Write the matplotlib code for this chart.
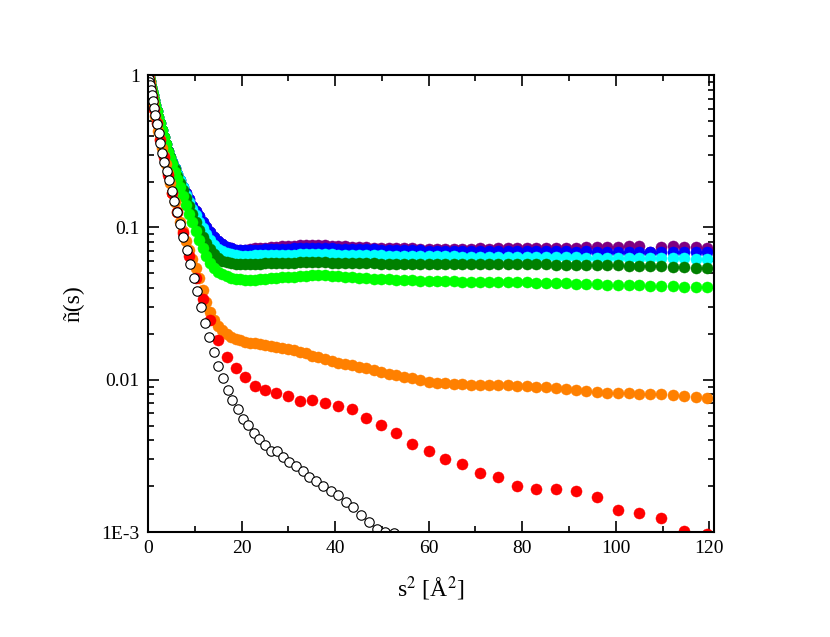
import matplotlib
matplotlib.use("Agg")
import matplotlib.pyplot as plt
from matplotlib.ticker import FixedLocator, FixedFormatter, LogLocator, NullFormatter, MultipleLocator

plt.rcParams.update({
    "font.family": ["Liberation Serif", "DejaVu Serif"],
    "mathtext.fontset": "stix",
})

# s^2 grid of the dense series (coloured curves)
s2_fine = [
    0.0, 0.013, 0.052, 0.117, 0.208, 0.324, 0.467, 0.636, 0.830, 1.051,
    1.297, 1.569, 1.868, 2.192, 2.542, 2.918, 3.320, 3.748, 4.202, 4.682,
    5.188, 5.720, 6.277, 6.861, 7.471, 8.106, 8.768, 9.455, 10.168, 10.908,
    11.673, 12.464, 13.281, 14.124, 14.994, 15.888, 16.809, 17.756, 18.729, 19.727,
    20.752, 21.802, 22.879, 23.982, 25.110, 26.264, 27.445, 28.651, 29.883, 31.141,
    32.425, 33.735, 35.071, 36.433, 37.820, 39.234, 40.674, 42.140, 43.631, 45.148,
    46.692, 48.262, 49.857, 51.478, 53.125, 54.798, 56.497, 58.222, 59.973, 61.750,
    63.553, 65.381, 67.236, 69.116, 71.023, 72.956, 74.914, 76.898, 78.909, 80.945,
    83.008, 85.096, 87.210, 89.350, 91.516, 93.708, 95.926, 98.170, 100.440, 102.736,
    105.057, 107.405, 109.778, 112.178, 114.603, 117.054, 119.532, 122.035,
]
s2_red = s2_fine[::2]
s2_white = [
    0.0, 0.016, 0.063, 0.141, 0.25, 0.391, 0.563, 0.766, 1.0, 1.266,
    1.563, 1.891, 2.25, 2.641, 3.063, 3.516, 4.0, 4.516, 5.063, 5.641,
    6.25, 6.891, 7.563, 8.266, 9.0, 9.766, 10.563, 11.391, 12.25, 13.141,
    14.063, 15.016, 16.0, 17.016, 18.063, 19.141, 20.25, 21.391, 22.563, 23.766,
    25.0, 26.266, 27.563, 28.891, 30.25, 31.641, 33.063, 34.516, 36.0, 37.516,
    39.063, 40.641, 42.25, 43.891, 45.563, 47.266, 49.0, 50.766, 52.563,
]

head = [1.0, 0.996, 0.985, 0.967, 0.942, 0.911, 0.875, 0.833, 0.787, 0.739,
        0.689, 0.637, 0.585, 0.533, 0.484, 0.437, 0.394, 0.353, 0.318, 0.290]

n_purple = head + [
    0.267, 0.245, 0.224, 0.204, 0.185, 0.167, 0.153, 0.139, 0.129, 0.119,
    0.109, 0.100, 0.0931, 0.0863, 0.0813, 0.0773, 0.0746, 0.0728, 0.0715, 0.0708,
    0.0711, 0.0722, 0.0727, 0.0732, 0.0737, 0.0742, 0.0747, 0.0752, 0.0757, 0.0760,
    0.0763, 0.0765, 0.0767, 0.0766, 0.0762, 0.0758, 0.0754, 0.0750, 0.0746, 0.0743,
    0.0740, 0.0737, 0.0734, 0.0732, 0.0730, 0.0728, 0.0727, 0.0725, 0.0724, 0.0725,
    0.0724, 0.0725, 0.0726, 0.0725, 0.0727, 0.0726, 0.0728, 0.0727, 0.0729, 0.0730,
    0.0731, 0.0734, 0.0733, 0.0736, 0.0735, 0.0738, 0.0742, 0.0740, 0.0746, 0.0750,
    0.0760, 0.0690, 0.0748, 0.0752, 0.0740, 0.0738, 0.0736, 0.0735,
]
n_blue = head + [
    0.267, 0.245, 0.224, 0.204, 0.185, 0.167, 0.153, 0.139, 0.129, 0.119,
    0.109, 0.100, 0.0931, 0.0863, 0.0813, 0.0773, 0.0746, 0.0728, 0.0715, 0.0708,
    0.0708, 0.0710, 0.0712, 0.0715, 0.0717, 0.0719, 0.0721, 0.0723, 0.0725, 0.0727,
    0.0729, 0.0731, 0.0733, 0.0733, 0.0731, 0.0729, 0.0726, 0.0724, 0.0722, 0.0720,
    0.0719, 0.0717, 0.0715, 0.0713, 0.0712, 0.0710, 0.0708, 0.0706, 0.0704, 0.0703,
    0.0704, 0.0702, 0.0701, 0.0702, 0.0700, 0.0699, 0.0700, 0.0698, 0.0697, 0.0698,
    0.0696, 0.0697, 0.0695, 0.0696, 0.0694, 0.0695, 0.0693, 0.0694, 0.0692, 0.0693,
    0.0691, 0.0690, 0.0692, 0.0690, 0.0691, 0.0689, 0.0690, 0.0688,
]
n_cyan = head + [
    0.267, 0.245, 0.224, 0.204, 0.184, 0.163, 0.147, 0.133, 0.120, 0.108,
    0.0991, 0.0906, 0.0830, 0.0767, 0.0724, 0.0695, 0.0676, 0.0664, 0.0658, 0.0653,
    0.0653, 0.0653, 0.0654, 0.0656, 0.0657, 0.0658, 0.0659, 0.0660, 0.0661, 0.0663,
    0.0665, 0.0666, 0.0668, 0.0667, 0.0666, 0.0665, 0.0663, 0.0661, 0.0660, 0.0658,
    0.0657, 0.0655, 0.0654, 0.0652, 0.0651, 0.0650, 0.0649, 0.0647, 0.0646, 0.0646,
    0.0645, 0.0644, 0.0643, 0.0643, 0.0642, 0.0641, 0.0640, 0.0640, 0.0639, 0.0638,
    0.0638, 0.0637, 0.0636, 0.0636, 0.0635, 0.0634, 0.0633, 0.0632, 0.0631, 0.0630,
    0.0629, 0.0628, 0.0627, 0.0626, 0.0625, 0.0624, 0.0622, 0.0621,
]
n_darkgreen = head + [
    0.264, 0.240, 0.218, 0.195, 0.175, 0.156, 0.138, 0.122, 0.109, 0.0968,
    0.0871, 0.0789, 0.0718, 0.0670, 0.0631, 0.0605, 0.0592, 0.0582, 0.0579, 0.0575,
    0.0575, 0.0576, 0.0577, 0.0579, 0.0582, 0.0583, 0.0584, 0.0585, 0.0586, 0.0587,
    0.0589, 0.0590, 0.0592, 0.0591, 0.0589, 0.0587, 0.0586, 0.0585, 0.0583, 0.0582,
    0.0581, 0.0580, 0.0579, 0.0578, 0.0578, 0.0577, 0.0576, 0.0576, 0.0575, 0.0576,
    0.0575, 0.0576, 0.0575, 0.0574, 0.0575, 0.0574, 0.0575, 0.0574, 0.0575, 0.0574,
    0.0572, 0.0571, 0.0569, 0.0568, 0.0567, 0.0565, 0.0564, 0.0563, 0.0562, 0.0560,
    0.0559, 0.0557, 0.0556, 0.0552, 0.0548, 0.0545, 0.0541, 0.0538,
]
n_green = head[:17] + [0.350, 0.314, 0.285] + [
    0.259, 0.232, 0.207, 0.183, 0.161, 0.141, 0.123, 0.108, 0.0948, 0.0826,
    0.0729, 0.0649, 0.0587, 0.0545, 0.0513, 0.0492, 0.0476, 0.0465, 0.0458, 0.0455,
    0.0452, 0.0452, 0.0453, 0.0456, 0.0459, 0.0462, 0.0465, 0.0469, 0.0473, 0.0475,
    0.0478, 0.0481, 0.0484, 0.0485, 0.0484, 0.0481, 0.0477, 0.0473, 0.0470, 0.0467,
    0.0463, 0.0460, 0.0457, 0.0455, 0.0453, 0.0451, 0.0449, 0.0447, 0.0445, 0.0444,
    0.0443, 0.0442, 0.0441, 0.0440, 0.0440, 0.0439, 0.0438, 0.0437, 0.0436, 0.0435,
    0.0433, 0.0432, 0.0431, 0.0430, 0.0428, 0.0426, 0.0424, 0.0421, 0.0419, 0.0417,
    0.0416, 0.0414, 0.0412, 0.0410, 0.0408, 0.0405, 0.0403, 0.0401,
]
n_orange = [
    1.0, 0.995, 0.980, 0.955, 0.922, 0.881, 0.834, 0.780, 0.723, 0.662,
    0.603, 0.541, 0.481, 0.428, 0.379, 0.333, 0.294, 0.259, 0.226, 0.195,
    0.169, 0.146, 0.126, 0.108, 0.0940, 0.0813, 0.0710, 0.0622, 0.0543, 0.0466,
    0.0386, 0.0322, 0.0277, 0.0248, 0.0226, 0.0211, 0.0201, 0.0191, 0.0186, 0.0182,
    0.0178, 0.0175, 0.0173, 0.0172, 0.0170, 0.0167, 0.0165, 0.0162, 0.0158, 0.0156,
    0.0153, 0.0150, 0.0144, 0.0140, 0.0136, 0.0132, 0.0129, 0.0127, 0.0125, 0.0122,
    0.0119, 0.0116, 0.0112, 0.0109, 0.0107, 0.0104, 0.0102, 0.00991, 0.00966, 0.00955,
    0.00946, 0.00937, 0.00933, 0.00929, 0.00927, 0.00927, 0.00927, 0.00920, 0.00912, 0.00906,
    0.00899, 0.00891, 0.00883, 0.00873, 0.00859, 0.00843, 0.00836, 0.00822, 0.00817, 0.00813,
    0.00809, 0.00804, 0.00800, 0.00794, 0.00785, 0.00774, 0.00764, 0.00759,
]
n_red = [
    1.0, 0.98, 0.92, 0.83, 0.72, 0.60, 0.484, 0.372, 0.288, 0.221,
    0.168, 0.126, 0.0912, 0.0646, 0.0468, 0.0339, 0.0245, 0.0182, 0.0140, 0.0119,
    0.0104, 0.00912, 0.00855, 0.00824, 0.00776, 0.00728, 0.00741, 0.00703, 0.00675, 0.00641,
    0.00562, 0.00501, 0.00444, 0.00376, 0.00339, 0.00302, 0.00279, 0.00245, 0.00228, 0.00200,
    0.00191, 0.00193, 0.00186, 0.00170, 0.00140, 0.00133, 0.00123, 0.00102, 0.00097,
]
n_white = [
    1.0, 0.993, 0.975, 0.946, 0.906, 0.857, 0.802, 0.741, 0.676, 0.610,
    0.543, 0.479, 0.417, 0.359, 0.309, 0.269, 0.234, 0.204, 0.174, 0.148,
    0.126, 0.105, 0.0871, 0.0708, 0.0575, 0.0468, 0.0380, 0.0302, 0.0234, 0.0191,
    0.0151, 0.0123, 0.0102, 0.00851, 0.00741, 0.00646, 0.00550, 0.00501, 0.00447, 0.00407,
    0.00372, 0.00339, 0.00339, 0.00309, 0.00288, 0.00272, 0.00251, 0.00229, 0.00216, 0.00202,
    0.00186, 0.00174, 0.00158, 0.00145, 0.00129, 0.00117, 0.00105, 0.00100, 0.00098,
]

series = [
    (s2_fine, n_purple, "#800080"),
    (s2_fine, n_blue, "#0000ff"),
    (s2_fine, n_cyan, "#00ffff"),
    (s2_fine, n_darkgreen, "#008000"),
    (s2_fine, n_green, "#00ff00"),
    (s2_fine, n_orange, "#ff8000"),
    (s2_red, n_red, "#ff0000"),
]

fig = plt.figure(figsize=(8.3, 6.37), dpi=100)
ax = fig.add_axes([0.1783, 0.1648, 0.6819, 0.7174])

for x, y, c in series:
    ax.plot(x, y, "o", ms=8, color=c, mec=c, mew=0.3)
ax.plot(s2_white, n_white, "o", ms=6.8, mfc="white", mec="black", mew=0.8)

ax.set_yscale("log")
ax.set_xlim(0, 121)
ax.set_ylim(1e-3, 1)

ax.xaxis.set_major_locator(MultipleLocator(20))
ax.xaxis.set_minor_locator(MultipleLocator(10))
ax.yaxis.set_major_locator(FixedLocator([1e-3, 1e-2, 1e-1, 1]))
ax.yaxis.set_major_formatter(FixedFormatter(["1E-3", "0.01", "0.1", "1"]))
ax.yaxis.set_minor_locator(LogLocator(base=10, subs=range(2, 10)))
ax.yaxis.set_minor_formatter(NullFormatter())

ax.tick_params(which="both", direction="in", top=True, right=True, width=1.2,
               labelsize=14, pad=6)
ax.tick_params(which="major", length=8)
ax.tick_params(which="minor", length=4.5)
for sp in ax.spines.values():
    sp.set_linewidth(1.5)

ax.set_xlabel(r"s$^{2}$ [Å$^{2}$]", fontsize=17, labelpad=12)
ax.set_ylabel("ñ(s)", fontsize=17, labelpad=12)

fig.savefig("out.png", dpi=100)
